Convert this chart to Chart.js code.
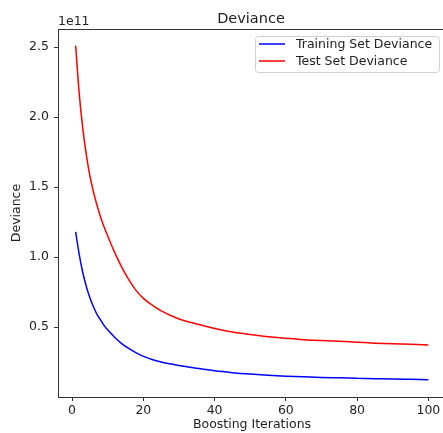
<!DOCTYPE html>
<html>
<head>
<meta charset="utf-8">
<script src="https://cdn.jsdelivr.net/npm/chart.js@4"></script>
<style>
  html, body { margin: 0; padding: 0; background: #fff; overflow: hidden; }
  #wrap { width: 443px; height: 433px; overflow: hidden; }
</style>
</head>
<body>
<div id="wrap"><canvas id="devianceChart" width="447" height="433"></canvas></div>
<script>
// deviance values in units of 1e11
const iterations = [1, 2, 3, 4, 5, 6, 7, 8, 9, 10, 12, 14, 16, 18, 20, 22, 25, 30, 35, 40, 45, 50, 55, 60, 65, 70, 75, 80, 85, 90, 95, 100];
const trainDeviance = [1.18, 1.02, 0.89, 0.79, 0.71, 0.645, 0.59, 0.55, 0.51, 0.48, 0.425, 0.38, 0.345, 0.315, 0.29, 0.272, 0.25, 0.225, 0.205, 0.187, 0.174, 0.164, 0.156, 0.149, 0.144, 0.14, 0.137, 0.134, 0.131, 0.128, 0.126, 0.124];
const testDeviance = [2.51, 2.17, 1.92, 1.73, 1.58, 1.465, 1.37, 1.285, 1.215, 1.15, 1.03, 0.925, 0.835, 0.76, 0.705, 0.665, 0.615, 0.558, 0.522, 0.49, 0.464, 0.446, 0.431, 0.42, 0.41, 0.404, 0.398, 0.392, 0.385, 0.38, 0.377, 0.372];
const xTicks = [0, 20, 40, 60, 80, 100];
const yTicks = [0.5, 1.0, 1.5, 2.0, 2.5];

const labelFont = { family: 'DejaVu Sans', size: 12.5 };

const frame = {
    id: 'frame',
    afterDraw(chart) {
        const c = chart.ctx, a = chart.chartArea;
        c.save();
        c.strokeStyle = '#333';
        c.lineWidth = 1;
        c.beginPath();
        c.moveTo(a.left, a.top + 0.5);
        c.lineTo(a.right, a.top + 0.5);
        c.moveTo(a.right - 0.5, a.top);
        c.lineTo(a.right - 0.5, a.bottom);
        c.stroke();

        c.fillStyle = '#222';
        c.font = '14.5px "DejaVu Sans"';
        c.textAlign = 'center';
        c.textBaseline = 'alphabetic';
        c.fillText('Deviance', (a.left + a.right) / 2 - 1, 23);

        c.font = '12.5px "DejaVu Sans"';
        c.textAlign = 'left';
        c.fillText('1e11', a.left, 25);

        // legend box, upper right
        const bx = 255, by = 36, bw = 184, bh = 36;
        c.fillStyle = 'rgba(255,255,255,0.8)';
        c.strokeStyle = '#d0d0d0';
        c.beginPath();
        c.roundRect(bx + 0.5, by + 0.5, bw, bh, 3);
        c.fill();
        c.stroke();
        chart.data.datasets.forEach((ds, i) => {
            const y = by + 8 + i * 17;
            c.strokeStyle = ds.borderColor;
            c.lineWidth = 1.5;
            c.beginPath();
            c.moveTo(259, y);
            c.lineTo(285, y);
            c.stroke();
            c.fillStyle = '#222';
            c.textBaseline = 'middle';
            c.fillText(ds.label, 296, y + 1);
        });
        c.restore();
    }
};

new Chart(document.getElementById('devianceChart'), {
    type: 'line',
    data: {
        datasets: [{
            label: 'Training Set Deviance',
            data: iterations.map((x, i) => ({ x: x, y: trainDeviance[i] })),
            borderColor: 'blue',
            borderWidth: 1.5,
            pointRadius: 0,
            cubicInterpolationMode: 'monotone'
        }, {
            label: 'Test Set Deviance',
            data: iterations.map((x, i) => ({ x: x, y: testDeviance[i] })),
            borderColor: 'red',
            borderWidth: 1.5,
            pointRadius: 0,
            cubicInterpolationMode: 'monotone'
        }]
    },
    options: {
        responsive: false,
        animation: false,
        events: [],
        layout: { padding: { top: 29, right: 1, left: 0, bottom: 0 } },
        plugins: {
            legend: { display: false },
            tooltip: { enabled: false }
        },
        scales: {
            x: {
                type: 'linear',
                min: -3.95,
                max: 104.95,
                afterBuildTicks: s => { s.ticks = xTicks.map(v => ({ value: v })); },
                afterFit: s => { s.height = 36; },
                grid: { drawOnChartArea: false, tickLength: 4, color: '#333' },
                border: { color: '#333' },
                ticks: { color: '#222', font: labelFont, padding: 2, maxRotation: 0 },
                title: { display: true, text: 'Boosting Iterations', color: '#222', font: labelFont, padding: { top: 0, bottom: 1 } }
            },
            y: {
                min: 0.0,
                max: 2.63,
                afterBuildTicks: s => { s.ticks = yTicks.map(v => ({ value: v })); },
                afterFit: s => { s.width = 58; },
                grid: { drawOnChartArea: false, tickLength: 4, color: '#333' },
                border: { color: '#333' },
                ticks: { color: '#222', font: labelFont, padding: 5, callback: v => v.toFixed(1) },
                title: { display: true, text: 'Deviance', color: '#222', font: labelFont, padding: { top: 9, bottom: 0 } }
            }
        }
    },
    plugins: [frame]
});
</script>
</body>
</html>
